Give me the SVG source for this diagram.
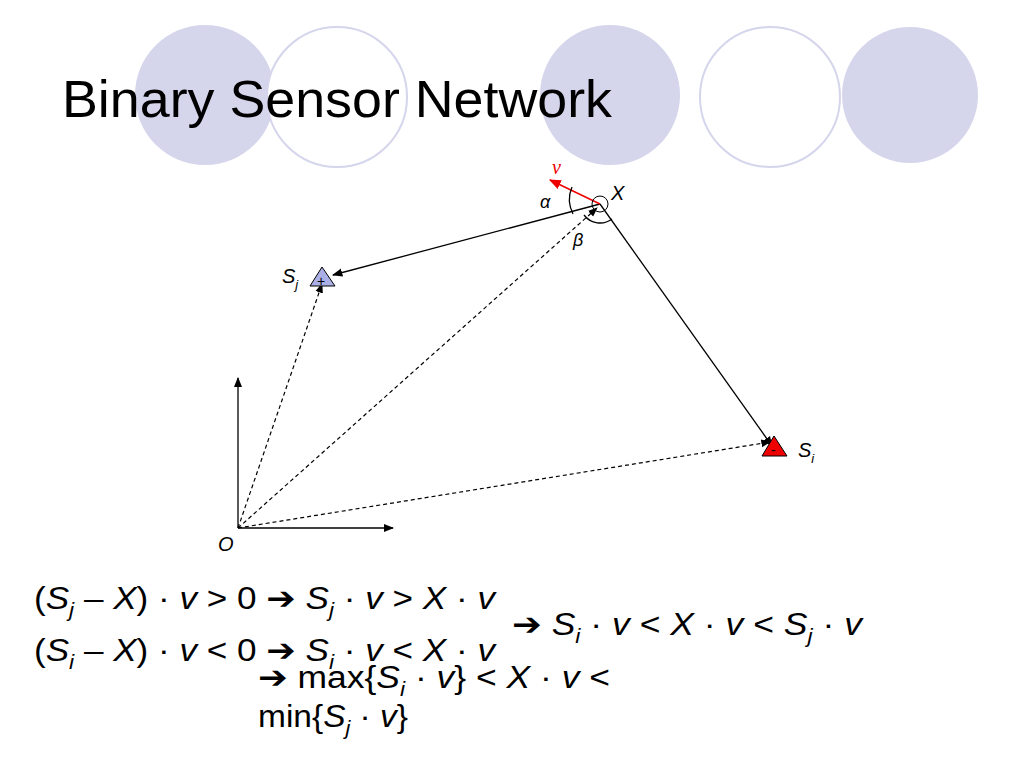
<svg xmlns="http://www.w3.org/2000/svg" width="1024" height="768" viewBox="0 0 1024 768">
<style>
.f{fill:#d5d5ec}.h{fill:#fff;stroke:#d5d5ec;stroke-width:2}
.t{font-family:"Liberation Sans",Arial,sans-serif;fill:#000}
.i{font-style:italic}
.l{stroke:#000;stroke-width:1.3;fill:none}
.d{stroke:#000;stroke-width:1.2;fill:none;stroke-dasharray:4 3}
</style>
<defs>
<marker id="a" viewBox="0 0 10 10" refX="9" refY="5" markerWidth="8" markerHeight="8" orient="auto"><path d="M0,1 L10,5 L0,9 z" fill="#000"/></marker>
<marker id="r" viewBox="0 0 10 10" refX="9" refY="5" markerWidth="8" markerHeight="8" orient="auto"><path d="M0,1 L10,5 L0,9 z" fill="#e00"/></marker>
</defs>
<rect width="1024" height="768" fill="#fff"/>
<g id="header">
<circle class="f" cx="205" cy="95" r="70"/>
<circle class="h" cx="337" cy="97" r="70"/>
<circle class="f" cx="610" cy="95" r="70"/>
<circle class="h" cx="770" cy="97" r="70"/>
<circle class="f" cx="910" cy="95" r="68"/>
<text class="t" x="62" y="117" font-size="52" textLength="550" lengthAdjust="spacingAndGlyphs">Binary Sensor Network</text>
</g>
<g id="connectors">
<line class="l" x1="600" y1="204" x2="333" y2="275" marker-end="url(#a)"/>
<line class="l" x1="600" y1="204" x2="772" y2="446" marker-end="url(#a)"/>
<line class="d" x1="238" y1="528" x2="322" y2="284" marker-end="url(#a)"/>
<line class="d" x1="238" y1="528" x2="597" y2="208" marker-end="url(#a)"/>
<line class="d" x1="238" y1="528" x2="770" y2="442" marker-end="url(#a)"/>
<line class="l" x1="238" y1="528" x2="238" y2="378" marker-end="url(#a)"/>
<line class="l" x1="238" y1="528" x2="393" y2="528" marker-end="url(#a)"/>
<line x1="600" y1="204" x2="550" y2="180" stroke="#e00" stroke-width="1.5" marker-end="url(#r)"/>
<path class="l" d="M572,187 A32,32 0 0 0 573,214"/>
<path class="l" d="M584,215 A20,20 0 0 0 612,219"/>
</g>
<g id="X">
<circle cx="600" cy="204" r="8" fill="none" stroke="#000" stroke-width="1"/>
<text class="t i" x="611" y="200" font-size="20">X</text>
<text x="552" y="174" font-family="Liberation Serif,serif" font-style="italic" font-size="20" fill="#e00">v</text>
<text class="t i" x="540" y="208" font-size="18">α</text>
<text class="t i" x="573" y="246" font-size="18">β</text>
</g>
<g id="Sj">
<polygon points="322,267 310,286 335,286" fill="#aab0e6" stroke="#000" stroke-width="1"/>
<text class="t" x="317" y="286" font-size="14">+</text>
<text class="t i" x="282" y="283" font-size="20">S<tspan font-size="13" dy="6">j</tspan></text>
</g>
<g id="Si">
<polygon points="774,436 762,456 787,456" fill="#e00" stroke="#000" stroke-width="1"/>
<text class="t" x="771" y="455" font-size="14">-</text>
<text class="t i" x="798" y="457" font-size="20">S<tspan font-size="13" dy="6">i</tspan></text>
</g>
<g id="O"><text class="t i" x="218" y="551" font-size="20">O</text></g>
<g id="eq" class="t" font-size="31">
<text x="34" y="609" textLength="461" lengthAdjust="spacingAndGlyphs">(<tspan class="i">S</tspan><tspan class="i" font-size="20" dy="8">j</tspan><tspan dy="-8"> – </tspan><tspan class="i">X</tspan>) · <tspan class="i">v</tspan> &gt; 0 <tspan font-family="DejaVu Sans">➔</tspan> <tspan class="i">S</tspan><tspan class="i" font-size="20" dy="8">j</tspan><tspan dy="-8"> · </tspan><tspan class="i">v</tspan> &gt; <tspan class="i">X</tspan> · <tspan class="i">v</tspan></text>
<text x="34" y="661" textLength="461" lengthAdjust="spacingAndGlyphs">(<tspan class="i">S</tspan><tspan class="i" font-size="20" dy="8">i</tspan><tspan dy="-8"> – </tspan><tspan class="i">X</tspan>) · <tspan class="i">v</tspan> &lt; 0 <tspan font-family="DejaVu Sans">➔</tspan> <tspan class="i">S</tspan><tspan class="i" font-size="20" dy="8">i</tspan><tspan dy="-8"> · </tspan><tspan class="i">v</tspan> &lt; <tspan class="i">X</tspan> · <tspan class="i">v</tspan></text>
<text x="512" y="635" textLength="350" lengthAdjust="spacingAndGlyphs"><tspan font-family="DejaVu Sans">➔</tspan> <tspan class="i">S</tspan><tspan class="i" font-size="20" dy="8">i</tspan><tspan dy="-8"> · </tspan><tspan class="i">v</tspan> &lt; <tspan class="i">X</tspan> · <tspan class="i">v</tspan> &lt; <tspan class="i">S</tspan><tspan class="i" font-size="20" dy="8">j</tspan><tspan dy="-8"> · </tspan><tspan class="i">v</tspan></text>
<text x="258" y="688" textLength="352" lengthAdjust="spacingAndGlyphs"><tspan font-family="DejaVu Sans">➔</tspan> max{<tspan class="i">S</tspan><tspan class="i" font-size="20" dy="8">i</tspan><tspan dy="-8"> · </tspan><tspan class="i">v</tspan>} &lt; <tspan class="i">X</tspan> · <tspan class="i">v</tspan> &lt;</text>
<text x="258" y="727" textLength="150" lengthAdjust="spacingAndGlyphs">min{<tspan class="i">S</tspan><tspan class="i" font-size="20" dy="8">j</tspan><tspan dy="-8"> · </tspan><tspan class="i">v</tspan>}</text>
</g>
</svg>
